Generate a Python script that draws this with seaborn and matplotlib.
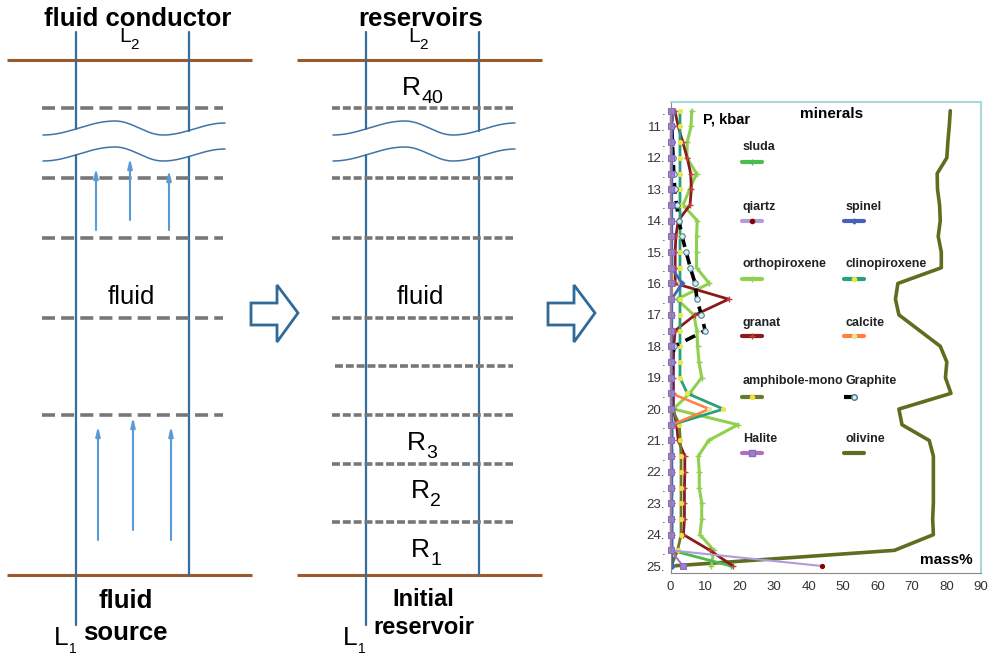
import numpy as np
import pandas as pd
import matplotlib
matplotlib.use("Agg")
import matplotlib.pyplot as plt
from matplotlib.patches import Polygon
import seaborn as sns

# pressure of every reservoir, kbar
pressure = [10.5, 11.0, 11.5, 12.0, 12.5, 13.0, 13.5, 14.0, 14.5, 15.0,
            15.5, 16.0, 16.5, 17.0, 17.5, 18.0, 18.5, 19.0, 19.5, 20.0,
            20.5, 21.0, 21.5, 22.0, 22.5, 23.0, 23.5, 24.0, 24.5, 25.0]

# mass% of minerals
olivine = [81.1, 80.8, 80.4, 80.1, 77.3, 77.4, 78.0, 78.2, 77.6, 78.5,
           78.5, 65.9, 65.2, 66.2, 72.2, 78.2, 80.1, 79.7, 81.3, 66.2,
           67.1, 75.0, 76.2, 76.2, 76.2, 76.2, 76.0, 76.2, 64.9, 0.0]
orthopiroxene = [6.1, 5.9, 4.8, 4.7, 7.5, 5.5, 3.6, 7.7, 7.5, 7.5,
                 7.5, 11.2, 1.8, 6.7, 7.6, 7.8, 8.2, 9.0, 5.5, 0.8,
                 19.5, 11.0, 8.0, 8.3, 8.3, 9.0, 9.0, 8.5, 12.5, 11.8]
sluda = [0.3, 0.3, 0.3, 0.3, 0.3, 0.3, 0.3, 0.3, 0.3, 0.3,
         0.3, 0.3, 0.3, 0.3, 0.3, 0.3, 0.3, 0.3, 0.3, 0.3,
         0.3, 0.3, 0.3, 0.3, 0.3, 0.3, 0.3, 0.3, 0.3, 17.6]
clinopiroxene = [2.7, 2.7, 2.7, 2.7, 2.7, 2.7, 2.7, 2.7, 2.7, 2.7,
                 2.7, 2.7, 2.7, 2.7, 2.7, 2.7, 2.7, 2.7, 4.8, 15.3,
                 0.4, 0.3, 0.3, 0.3, 0.3, 0.3, 0.3, 0.3, 0.3, 0.3]
granat = [1.2, 2.2, 3.5, 4.8, 5.8, 6.0, 5.6, 2.2, 1.5, 1.3,
          1.3, 1.3, 16.8, 7.1, 1.3, 0.9, 0.8, 0.8, 0.8, 0.8,
          1.7, 2.2, 4.1, 4.1, 4.0, 4.0, 4.0, 3.7, 11.4, 18.1]
amphibole = [0.2, 0.2, 0.2, 0.2, 0.2, 0.2, 0.2, 0.2, 0.2, 0.2,
             0.2, 0.2, 0.2, 0.2, 0.2, 0.2, 0.2, 0.2, 0.2, 0.5,
             2.5, 2.8, 3.0, 3.0, 3.0, 3.0, 3.0, 3.0, 2.0, 0.2]
calcite = [0.2, 0.2, 0.2, 0.2, 0.2, 0.2, 0.2, 0.2, 0.2, 0.2,
           0.2, 0.2, 0.2, 0.2, 0.2, 0.2, 0.2, 0.2, 0.2, 11.2,
           0.3, 0.3, 0.3, 0.3, 0.3, 0.3, 0.3, 0.3, 0.3, 0.3]
graphite = [0.3, 0.3, 0.5, 0.7, 0.9, 1.2, 1.7, 2.4, 3.3, 4.5,
            5.7, 7.1, 7.6, 8.9, 10.0, 1.0, 0.4, 0.2, 0.2, 0.2,
            0.2, 0.2, 0.2, 0.2, 0.2, 0.2, 0.2, 0.2, 0.2, 0.2]
spinel = [0.3, 0.3, 0.3, 0.3, 0.3, 0.3, 0.3, 0.3, 0.3, 0.3,
          0.3, 3.3, 0.3, 0.3, 0.3, 0.3, 0.3, 0.3, 0.3, 0.3,
          0.3, 0.3, 0.3, 0.3, 0.3, 0.3, 0.3, 0.3, 0.3, 0.3]
qiartz = [0.1, 0.1, 0.1, 0.1, 0.1, 0.1, 0.1, 0.1, 0.1, 0.1,
          0.1, 0.1, 0.1, 0.1, 0.1, 0.1, 0.1, 0.1, 0.1, 0.1,
          0.1, 0.1, 0.1, 0.1, 0.1, 0.1, 0.1, 0.1, 0.1, 44.0]
halite = [0.0, 0.0, 0.0, 0.0, 0.0, 0.0, 0.0, 0.0, 0.0, 0.0,
          0.0, 0.0, 0.0, 0.0, 0.0, 0.0, 0.0, 0.0, 0.0, 0.0,
          0.0, 0.0, 0.0, 0.0, 0.0, 0.0, 0.0, 0.0, 0.0, 3.6]

# line styles: name -> (values, kwargs for the line)
series = {
    "olivine": (olivine, dict(color="#5d6e1e", lw=2.6)),
    "orthopiroxene": (orthopiroxene, dict(color="#8fd14f", lw=2.2, marker="+", ms=4,
                                          mec="#8fd14f", mew=1)),
    "sluda": (sluda, dict(color="#4cbb4c", lw=2.0, marker="+", ms=4, mec="#4cbb4c", mew=1)),
    "granat": (granat, dict(color="#8b1a1a", lw=2.0, marker="+", ms=4, mec="#c04040", mew=1)),
    "amphibole-mono": (amphibole, dict(color="#6b7a2a", lw=2.0, marker="o", ms=3,
                                        mfc="#f0e040", mec="#f0e040")),
    "clinopiroxene": (clinopiroxene, dict(color="#2aa07a", lw=2.0, marker="o", ms=3,
                                          mfc="#e8e84a", mec="#e8e84a")),
    "calcite": (calcite, dict(color="#ff7f3f", lw=1.8, marker="o", ms=3,
                              mfc="#dce8a0", mec="#dce8a0")),
    "Graphite": (graphite, dict(color="black", lw=2.6, linestyle=(0, (3, 2)), marker="o",
                                ms=4, mfc="#d6eef2", mec="#4a7a8a")),
    "spinel": (spinel, dict(color="#4462b8", lw=2.0, marker="D", ms=2.5, mec="#4462b8")),
    "qiartz": (qiartz, dict(color="#b19cd9", lw=1.5, marker="o", ms=3,
                            mfc="#8b0000", mec="#8b0000")),
    "Halite": (halite, dict(color="#b070c0", lw=1.4, marker="s", ms=4.5,
                            mfc="#9f7fd0", mec="#8a6ac0")),
}

sns.set_style("white")
plt.rcParams["font.family"] = ["Liberation Sans", "DejaVu Sans"]
plt.rcParams["text.color"] = "black"

BROWN = "#9b5a2e"
BLUE = "#336e9e"
LIGHT_BLUE = "#5b9bd5"
DASH = "#777777"

fig = plt.figure(figsize=(9.97, 6.54), dpi=100)

# ---------- left part: the two schematic columns (pixel coords) ----------
dg = fig.add_axes([0, 0, 1, 1])
dg.set_xlim(0, 997)
dg.set_ylim(654, 0)
dg.axis("off")


def wave(x):
    # smooth wavy break line through a few key points
    kx = [43, 115, 163, 225]
    ky = [135, 121, 135, 123]
    y = np.zeros_like(x, dtype=float)
    for i in range(3):
        m = (x >= kx[i]) & (x <= kx[i + 1])
        s = (x[m] - kx[i]) / (kx[i + 1] - kx[i])
        y[m] = ky[i] + (ky[i + 1] - ky[i]) * (1 - np.cos(np.pi * s)) / 2
    return y


def sub_text(x, y, main, sub, size, subsize):
    t = dg.text(x, y, main, fontsize=size, ha="left", va="baseline", color="black")
    dg.annotate(sub, xy=(1.0, 0.05), xycoords=t, fontsize=subsize, ha="left",
                va="center", color="black")


def column(dx, levels, dash, x_from):
    for yb in (60, 575):
        dg.plot([7 + dx, 252 + dx], [yb, yb], color=BROWN, lw=2.2, solid_capstyle="butt")
    xs = np.linspace(43, 225, 200)
    dg.plot(xs + dx, wave(xs), color="#3f74a8", lw=1.1)
    dg.plot(xs + dx, wave(xs) + 26, color="#3f74a8", lw=1.1)
    for xv, bottom in ((76, 625), (189, 575)):
        yw = wave(np.array([float(xv)]))[0]
        dg.plot([xv + dx, xv + dx], [32, yw], color=BLUE, lw=1.6)
        dg.plot([xv + dx, xv + dx], [yw + 26, bottom], color=BLUE, lw=1.6)
    for lev, x0 in zip(levels, x_from):
        dg.plot([x0 + dx, 223 + dx], [lev, lev], color=DASH, lw=2.6,
                linestyle=(0, dash), solid_capstyle="butt")


# column 1: fluid conductor
column(0, [108, 178, 238, 318, 415], (3.6, 1.7), [42] * 5)
dg.text(138, 19, "fluid conductor", fontsize=18.5, fontweight="bold", ha="center", va="center")
sub_text(119, 42, "L", "2", 15, 11)
dg.text(131, 297, "fluid", fontsize=18.5, ha="center", va="center")
dg.text(126, 601, "fluid", fontsize=18.5, fontweight="bold", ha="center", va="center")
dg.text(125, 633, "source", fontsize=18.5, fontweight="bold", ha="center", va="center")
sub_text(54, 645, "L", "1", 19, 10)
for xa, y0, y1 in ((96, 230, 168), (130, 220, 158), (169, 230, 170),
                   (98, 540, 426), (133, 530, 417), (171, 540, 426)):
    dg.annotate("", xy=(xa, y1), xytext=(xa, y0),
                arrowprops=dict(arrowstyle="-|>,head_length=0.55,head_width=0.13",
                                color=LIGHT_BLUE, lw=1.5, shrinkA=0, shrinkB=0))

# column 2: reservoirs
column(290, [108, 178, 238, 318, 366, 415, 464, 522], (2.2, 0.8),
       [42, 42, 42, 42, 45, 42, 42, 42])
dg.text(421, 19, "reservoirs", fontsize=18.5, fontweight="bold", ha="center", va="center")
sub_text(408, 42, "L", "2", 15, 11)
sub_text(402, 95, "R", "40", 19, 14)
dg.text(420, 297, "fluid", fontsize=18.5, ha="center", va="center")
sub_text(407, 450, "R", "3", 19, 14)
sub_text(411, 498, "R", "2", 19, 14)
sub_text(411, 557, "R", "1", 19, 14)
dg.text(423, 599, "Initial", fontsize=17, fontweight="bold", ha="center", va="center")
dg.text(424, 628, "reservoir", fontsize=17, fontweight="bold", ha="center", va="center")
sub_text(343, 645, "L", "1", 19, 10)

# block arrows between panels
for dx in (0, 297):
    pts = [(251 + dx, 303), (277 + dx, 303), (277 + dx, 285), (298 + dx, 313),
           (277 + dx, 342), (277 + dx, 325), (251 + dx, 325)]
    dg.add_patch(Polygon(pts, closed=True, facecolor="white", edgecolor="#2f6a9a", lw=2))

# ---------- right part: mineral composition vs pressure ----------
ax = fig.add_axes([0.6727, 0.1239, 0.3112, 0.7202])
for name, (vals, kw) in series.items():
    d = pd.DataFrame({"P": pressure, "mass": vals})
    sns.lineplot(data=d, x="mass", y="P", orient="y", sort=False, estimator=None,
                 ax=ax, **kw)
# halite squares sit on the axis line, keep them whole
ax.lines[-1].set_clip_on(False)

ax.set_xlim(0, 90)
ax.set_ylim(25.22, 10.22)
ax.set_xlabel("")
ax.set_ylabel("")
ax.set_xticks(range(0, 91, 10))
ax.set_yticks(pressure)
ax.set_yticklabels([f"{int(p)}." if p == int(p) else "." for p in pressure])
ax.tick_params(axis="x", direction="out", length=3, width=0.8, color="#888888",
               labelsize=9.5, labelcolor="#333333", pad=3)
ax.tick_params(axis="y", length=0, labelsize=9.5, labelcolor="#333333", pad=4)
for side in ("top", "right"):
    ax.spines[side].set_color("#a9dada")
    ax.spines[side].set_linewidth(1.5)
for side in ("left", "bottom"):
    ax.spines[side].set_color("#888888")
    ax.spines[side].set_linewidth(0.8)

ax.text(0.104, 0.962, "P, kbar", transform=ax.transAxes, fontsize=10.5,
        fontweight="bold", ha="left", va="center")
ax.text(0.517, 0.975, "minerals", transform=ax.transAxes, fontsize=11,
        fontweight="bold", ha="center", va="center")
ax.text(0.974, 0.028, "mass%", transform=ax.transAxes, fontsize=11,
        fontweight="bold", ha="right", va="center")

# hand-made legend: label above a short sample line
legend_rows = [
    ("sluda", None),
    ("qiartz", "spinel"),
    ("orthopiroxene", "clinopiroxene"),
    ("granat", "calcite"),
    ("amphibole-mono", "Graphite"),
    ("Halite", "olivine"),
]
label_y = [0.905, 0.778, 0.656, 0.531, 0.408, 0.284]
handle_y = [0.873, 0.748, 0.624, 0.503, 0.374, 0.255]
col_x = [0.232, 0.562]
for row, ly, hy in zip(legend_rows, label_y, handle_y):
    for name, cx in zip(row, col_x):
        if name is None:
            continue
        ax.text(cx, ly, name, transform=ax.transAxes, fontsize=9,
                fontweight="bold", ha="left", va="center", color="#222222")
        kw = dict(series[name][1])
        kw["lw"] = 3
        ax.plot([cx - 0.003, cx + 0.03, cx + 0.062], [hy, hy, hy], transform=ax.transAxes,
                markevery=[1], clip_on=False, **kw)

fig.savefig("out.png", dpi=100)
